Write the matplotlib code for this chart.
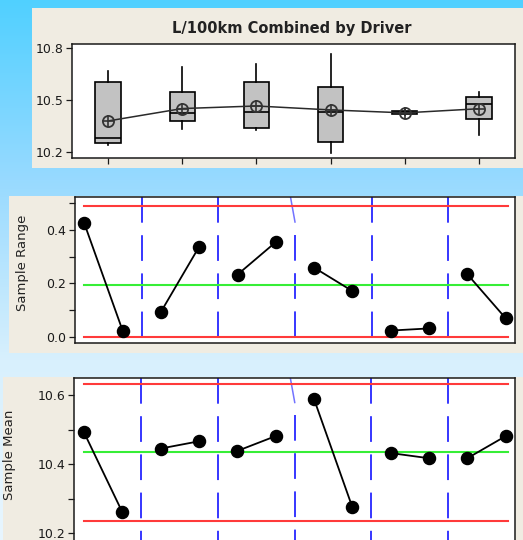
import matplotlib
matplotlib.use("Agg")
import matplotlib.pyplot as plt
import numpy as np
from matplotlib.patches import Rectangle
from matplotlib.ticker import FixedLocator, FormatStrFormatter

plt.rcParams['font.family'] = ['DejaVu Sans']
plt.rcParams['lines.scale_dashes'] = False

# ---------------- data ----------------
drivers = [1, 2, 3, 4, 5, 6]
box_whislo = [10.237, 10.330, 10.324, 10.194, 10.410, 10.297]
box_q1     = [10.249, 10.380, 10.336, 10.258, 10.418, 10.392]
box_med    = [10.281, 10.423, 10.432, 10.432, 10.428, 10.477]
box_q3     = [10.606, 10.546, 10.605, 10.574, 10.437, 10.517]
box_whishi = [10.670, 10.690, 10.711, 10.767, 10.445, 10.548]
box_mean   = [10.378, 10.450, 10.465, 10.442, 10.425, 10.449]

subgroups = list(range(1, 13))
stage = [1, 1, 2, 2, 3, 3, 4, 4, 5, 5, 6, 6]
sample_range = [0.425, 0.023, 0.093, 0.338, 0.233, 0.355,
                0.259, 0.171, 0.023, 0.031, 0.234, 0.069]
sample_mean = [10.493, 10.262, 10.445, 10.466, 10.438, 10.481,
               10.589, 10.276, 10.432, 10.417, 10.417, 10.481]
r_ucl, r_cl, r_lcl = 0.490, 0.193, 0.0
x_ucl, x_cl, x_lcl = 10.631, 10.436, 10.236

title = "L/100km Combined by Driver"
ylabel_r = "Sample Range"
ylabel_x = "Sample Mean"

# ---------------- figure ----------------
W, H = 523, 540
fig = plt.figure(figsize=(W / 100, H / 100), dpi=100)

def ax_rect(x0, y0, x1, y1):
    return [x0 / W, 1 - y1 / H, (x1 - x0) / W, (y1 - y0) / H]

bg = fig.add_axes([0, 0, 1, 1], zorder=-10)
bg.set_xlim(0, W)
bg.set_ylim(H, 0)
bg.axis('off')
stop_y = [0, 180, 360, 540]
stop_c = np.array([[80, 208, 255], [152, 218, 255], [216, 240, 253], [232, 246, 255]]) / 255
yy = np.arange(H)
grad = np.stack([np.interp(yy, stop_y, stop_c[:, i]) for i in range(3)], axis=-1)
bg.imshow(grad[:, None, :], aspect='auto', extent=[0, W, H, 0], zorder=0)
BEIGE = '#F0ECE2'
for (x0, y0, x1, y1) in [(32, 8, 523, 168), (9, 196, 523, 352.5), (3, 376.5, 523, 545)]:
    bg.add_patch(Rectangle((x0, y0), x1 - x0, y1 - y0, facecolor=BEIGE, edgecolor='none', zorder=1))

SPINE = '#1a1a1a'

def style(ax):
    ax.set_facecolor('white')
    for s in ax.spines.values():
        s.set_color(SPINE)
        s.set_linewidth(1.1)
    ax.tick_params(direction='out', length=4.5, width=0.9, color=SPINE,
                   labelsize=9, pad=1.5, labelcolor='#1a1a1a')
    ax.tick_params(which='minor', direction='out', length=4.5, width=0.9, color=SPINE)

# ---- top: boxplot ----
ax1 = fig.add_axes(ax_rect(72, 44.3, 515, 158))
style(ax1)
stats = []
for i in range(len(drivers)):
    stats.append(dict(whislo=box_whislo[i], q1=box_q1[i], med=box_med[i], q3=box_q3[i],
                      whishi=box_whishi[i], mean=box_mean[i], fliers=[]))
ax1.bxp(stats, positions=drivers, widths=0.34, patch_artist=True, showcaps=False,
        showfliers=False, showmeans=False,
        boxprops=dict(facecolor='#C2C2C2', edgecolor='black', linewidth=1.2),
        whiskerprops=dict(color='black', linewidth=1.2),
        medianprops=dict(color='black', linewidth=1.2))
ax1.plot(drivers, box_mean, color='#2a2a2a', lw=1.1, zorder=4)
ax1.plot(drivers, box_mean, 'o', ms=8, mfc='none', mec='#333333', mew=1.3, zorder=5)
ax1.plot(drivers, box_mean, '+', ms=8, color='#333333', mew=1.2, zorder=5)
ax1.set_xlim(0.515, 6.485)
ax1.set_ylim(10.163, 10.823)
ax1.set_xticks(drivers)
ax1.set_xticklabels([])
ax1.set_yticks([10.2, 10.5, 10.8])
ax1.yaxis.set_major_formatter(FormatStrFormatter('%.1f'))
fig.text(292 / W, 1 - 28 / H, title, ha='center', va='center',
         fontweight='bold', fontsize=10.5, color='#222222')

# ---- control charts ----
def chart(ax, vals, ucl, cl, lcl, ylim, ax_h_px):
    style(ax)
    x = np.array(subgroups)
    st = np.array(stage)
    for s in sorted(set(stage)):
        m = st == s
        ax.plot(x[m], np.array(vals)[m], '-', color='black', lw=1.3, marker='o',
                ms=8.7, mfc='black', mec='black', zorder=5)
    xs, xe = x.min(), x.max() + 0.06
    ax.plot([xs, xe], [ucl, ucl], color='#FF3A3A', lw=1.5, zorder=3)
    ax.plot([xs, xe], [lcl, lcl], color='#FF3A3A', lw=1.5, zorder=3)
    ax.plot([xs, xe], [cl, cl], color='#36EE36', lw=1.5, zorder=3)
    ax.set_xlim(0.744, 12.23)
    ax.set_ylim(*ylim)
    per_px = (ylim[1] - ylim[0]) / ax_h_px
    px_x = (12.23 - 0.744) / 440.0
    bounds = [(x[st == s].max() + x[st == s + 1].min()) / 2 for s in sorted(set(stage))[:-1]]
    for k, b in enumerate(bounds):
        if k == 2:
            ax.plot([b, b], [ylim[1] - 38 * per_px, ylim[0]], color='#0000FF', lw=1.1,
                    linestyle=(0, (18.5, 9.0)), zorder=2)
            ax.plot([b - 4.5 * px_x, b], [ylim[1], ylim[1] - 25 * per_px], color='#5050FF',
                    lw=1.1, alpha=0.8, zorder=2)
        else:
            ax.plot([b, b], [ylim[1], ylim[0]], color='#0000FF', lw=1.1,
                    linestyle=(0, (18.5, 9.0)), zorder=2)
    ax.set_xticks([])

ax2 = fig.add_axes(ax_rect(74.5, 197, 514.5, 343.3))
chart(ax2, sample_range, r_ucl, r_cl, r_lcl, (-0.0248, 0.524), 146.3)
ax2.set_yticks([0.0, 0.2, 0.4])
ax2.yaxis.set_minor_locator(FixedLocator([0.1, 0.3, 0.5]))
ax2.yaxis.set_major_formatter(FormatStrFormatter('%.1f'))

ax3 = fig.add_axes(ax_rect(74, 377.5, 514.5, 545))
chart(ax3, sample_mean, x_ucl, x_cl, x_lcl, (10.166, 10.6506), 167.5)
ax3.set_yticks([10.2, 10.4, 10.6])
ax3.yaxis.set_minor_locator(FixedLocator([10.3, 10.5]))
ax3.yaxis.set_major_formatter(FormatStrFormatter('%.1f'))

fig.text(23 / W, 1 - 263 / H, ylabel_r, rotation=90, ha='center', va='center',
         fontsize=9.5, color='#222222')
fig.text(10 / W, 1 - 455 / H, ylabel_x, rotation=90, ha='center', va='center',
         fontsize=9.5, color='#222222')

fig.savefig('out.png', dpi=100)
